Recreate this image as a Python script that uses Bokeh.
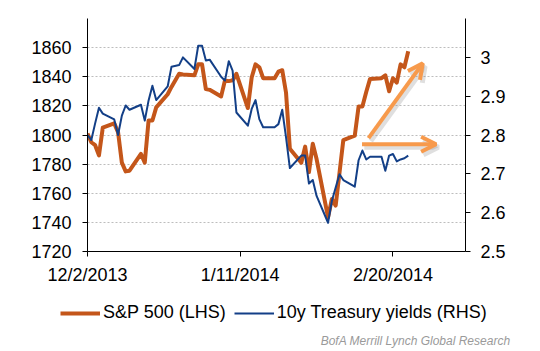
import pandas as pd
from bokeh.plotting import figure
from bokeh.layouts import column
from bokeh.models import (Range1d, LinearAxis, FixedTicker, Legend, LegendItem,
                          Arrow, OpenHead, Label, ColumnDataSource)
from bokeh.embed import file_html
from bokeh.resources import INLINE

# ---------------- data ----------------
dates = [
    "2013-12-02", "2013-12-03", "2013-12-04", "2013-12-05", "2013-12-06",
    "2013-12-09", "2013-12-10", "2013-12-11", "2013-12-12", "2013-12-13",
    "2013-12-16", "2013-12-17", "2013-12-18", "2013-12-19", "2013-12-20",
    "2013-12-23", "2013-12-24", "2013-12-26", "2013-12-27",
    "2013-12-30", "2013-12-31", "2014-01-01", "2014-01-02", "2014-01-03",
    "2014-01-06", "2014-01-07", "2014-01-08", "2014-01-09", "2014-01-10",
    "2014-01-13", "2014-01-14", "2014-01-15", "2014-01-16", "2014-01-17",
    "2014-01-20", "2014-01-21", "2014-01-22", "2014-01-23", "2014-01-24",
    "2014-01-27", "2014-01-28", "2014-01-29", "2014-01-30", "2014-01-31",
    "2014-02-03", "2014-02-04", "2014-02-05", "2014-02-06", "2014-02-07",
    "2014-02-10", "2014-02-11", "2014-02-12", "2014-02-13", "2014-02-14",
    "2014-02-17", "2014-02-18", "2014-02-19", "2014-02-20", "2014-02-21",
    "2014-02-22", "2014-02-23", "2014-02-24",
]

spx = [
    1801, 1795, 1793, 1786, 1805,
    1808, 1802, 1781, 1775, 1775.5,
    1787, 1781, 1810, 1810, 1819,
    1828, 1833, 1842, 1841.5,
    1841, 1848.5, 1848.5, 1831.5, 1831,
    1826.5, 1837.5, 1837, 1837.5, 1842,
    1818.5, 1839.5, 1848.5, 1846.5, 1839,
    1839, 1843.5, 1844.5, 1829, 1790.5,
    1781, 1792, 1774.5, 1794, 1783.5,
    1743.5, 1756, 1751.5, 1774, 1796.5,
    1799.5, 1819.5, 1819.5, 1829.5, 1838.5,
    1839, 1841, 1830, 1839, 1836,
    1848.5, 1846.5, 1857.5,
]

ust10y = [
    2.80, 2.787, 2.83, 2.87, 2.855,
    2.84, 2.80, 2.85, 2.876, 2.865,
    2.878, 2.837, 2.889, 2.927, 2.89,
    2.925, 2.976, 2.98, 3.0,
    2.97, 3.03, 3.03, 2.992, 2.994,
    2.95, 2.94, 2.99, 2.966, 2.858,
    2.824, 2.867, 2.89, 2.841, 2.82,
    2.82, 2.828, 2.865, 2.794, 2.715,
    2.747, 2.747, 2.675, 2.684, 2.643,
    2.574, 2.63, 2.665, 2.699, 2.684,
    2.667, 2.735, 2.76, 2.737, 2.744,
    2.744, 2.708, 2.747, 2.751, 2.732,
    2.737, 2.740, 2.747,
]

series_names = ["S&P 500 (LHS)", "10y Treasury yields (RHS)"]
x_tick_days = [0, 40, 80]
x_tick_labels = ["12/2/2013", "1/11/2014", "2/20/2014"]
left_ticks = [1720, 1740, 1760, 1780, 1800, 1820, 1840, 1860]
grid_ticks = [1740, 1760, 1780, 1800, 1820, 1840, 1860, 1880]
right_ticks = [2.5, 2.6, 2.7, 2.8, 2.9, 3.0]
right_tick_labels = ["2.5", "2.6", "2.7", "2.8", "2.9", "3"]
source_note = "BofA Merrill Lynch Global Research"

# ---------------- derived ----------------
start = pd.Timestamp(dates[0])
days = [(pd.Timestamp(d) - start).days for d in dates]

FONT = "Liberation Sans"
ORANGE = "#C4561A"
BLUE = "#133F87"
ARROW = "#F79A4C"

p = figure(width=540, height=290,
           x_range=Range1d(0, 99), y_range=Range1d(1720, 1880),
           output_backend="svg", toolbar_location=None,
           min_border_left=87, min_border_right=75,
           min_border_top=18, min_border_bottom=39,
           outline_line_color=None, background_fill_color="white")
p.frame_align = False
p.extra_y_ranges = {"rhs": Range1d(2.5, 3.1)}

# grid
p.xgrid.visible = False
p.ygrid.ticker = FixedTicker(ticks=grid_ticks)
p.ygrid.grid_line_color = "#bdbdbd"
p.ygrid.grid_line_dash = "2 2"
p.ygrid.grid_line_width = 1


def style_axis(ax, standoff):
    ax.axis_line_color = "black"
    ax.axis_line_width = 1
    ax.major_tick_line_color = "black"
    ax.major_tick_out = 5
    ax.major_tick_in = 0
    ax.minor_tick_line_color = None
    ax.major_label_text_font = FONT
    ax.major_label_text_font_size = "18px"
    ax.major_label_text_color = "black"
    ax.major_label_standoff = standoff


xa = p.xaxis[0]
xa.ticker = FixedTicker(ticks=x_tick_days)
xa.major_label_overrides = {d: s for d, s in zip(x_tick_days, x_tick_labels)}
style_axis(xa, 8)

ya = p.yaxis[0]
ya.ticker = FixedTicker(ticks=left_ticks)
style_axis(ya, 11)

ra = LinearAxis(y_range_name="rhs", ticker=FixedTicker(ticks=right_ticks))
ra.major_label_overrides = {v: s for v, s in zip(right_ticks, right_tick_labels)}
style_axis(ra, 10)
p.add_layout(ra, "right")

# series
p.line(days, spx, line_width=4, line_color=ORANGE, line_join="round")
p.line(days, ust10y, y_range_name="rhs", line_width=2, line_color=BLUE,
       line_join="round")

# arrows (annotations)
arrow_up = (73.6, 1797.9, 87.8, 1849.2)
arrow_right = (71.9, 1793.6, 91.3, 1793.6)
for (xs, ys, xe, ye) in (arrow_up, arrow_right):
    p.add_layout(Arrow(x_start=xs + 0.6, y_start=ys - 2.0, x_end=xe + 0.6, y_end=ye - 2.0,
                       line_color="#808080", line_alpha=0.25, line_width=5,
                       end=OpenHead(size=15, line_color="#808080", line_alpha=0.25, line_width=5)))
for (xs, ys, xe, ye) in (arrow_up, arrow_right):
    p.add_layout(Arrow(x_start=xs, y_start=ys, x_end=xe, y_end=ye,
                       line_color=ARROW, line_width=4,
                       end=OpenHead(size=15, line_color=ARROW, line_width=4)))

# ---------------- legend + source strip ----------------
q = figure(width=540, height=61, x_range=Range1d(0, 540), y_range=Range1d(0, 61),
           output_backend="svg", toolbar_location=None,
           x_axis_location=None, y_axis_location=None,
           min_border=0, min_border_left=0, min_border_right=0,
           min_border_top=0, min_border_bottom=0,
           outline_line_color=None, background_fill_color="white")
q.frame_align = False
q.xgrid.visible = False
q.ygrid.visible = False
proxy = ColumnDataSource(data=dict(x=[float("nan")], y=[float("nan")]))
k1 = q.line("x", "y", source=proxy, line_width=4, line_color=ORANGE)
k2 = q.line("x", "y", source=proxy, line_width=2, line_color=BLUE)

legend = Legend(items=[LegendItem(label=series_names[0], renderers=[k1]),
                       LegendItem(label=series_names[1], renderers=[k2])],
                orientation="horizontal", location=(60, 28),
                label_text_font=FONT, label_text_font_size="18px",
                label_text_color="black", glyph_width=40, glyph_height=20,
                label_standoff=3, spacing=8, padding=0, margin=0,
                border_line_color=None, background_fill_alpha=0)
q.add_layout(legend, "center")

footer = Label(x=510, y=11, text=source_note, text_align="right",
               text_baseline="middle",
               text_font=FONT, text_font_size="12px", text_font_style="italic",
               text_color="#9a9a9a")
q.add_layout(footer)

layout = column(p, q, spacing=0)
open("out.html", "w").write(file_html(layout, INLINE))
